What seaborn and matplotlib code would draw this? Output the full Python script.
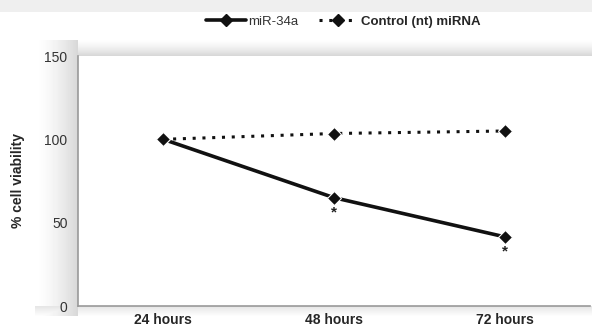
import numpy as np
import pandas as pd
import matplotlib
matplotlib.use('Agg')
import matplotlib.pyplot as plt
import seaborn as sns
from matplotlib.lines import Line2D

# data
timepoints = ['24 hours', '48 hours', '72 hours']
mir34a = [100, 65, 41.5]
control = [100, 103.5, 105]
significant = [False, True, True]

df = pd.DataFrame({
    'time': timepoints * 2,
    'viability': mir34a + control,
    'group': ['miR-34a'] * 3 + ['Control (nt) miRNA'] * 3,
})

sns.set_style('white')
plt.rcParams['font.family'] = ['Liberation Sans', 'DejaVu Sans']

W, H = 592, 332
fig = plt.figure(figsize=(W / 100, H / 100), dpi=100)
fig.patch.set_facecolor('white')

# soft shadow around the plot area plus a light strip on top
yy, xx = np.mgrid[0:H, 0:W].astype(float)
shade = np.zeros((H, W))
left_band = (xx >= 35) & (xx < 78) & (yy >= 40) & (yy < 316)
shade[left_band] = ((xx[left_band] - 35) / 43) ** 1.5 * 0.16
top_band = (xx >= 78) & (yy >= 38) & (yy < 56)
shade[top_band] = np.maximum(shade[top_band], ((yy[top_band] - 38) / 18) ** 1.5 * 0.17)
bot_band = (xx >= 35) & (yy >= 306) & (yy < 316)
shade[bot_band] = np.maximum(shade[bot_band], 0.1 * (316 - yy[bot_band]) / 10)
shade[yy < 12] = 0.065
bg = fig.add_axes([0, 0, 1, 1], zorder=0)
bg.imshow(1 - shade, cmap='gray', vmin=0, vmax=1, extent=[0, 1, 0, 1],
          aspect='auto', origin='upper', interpolation='bilinear')
bg.axis('off')

ax = fig.add_axes([78 / W, 1 - 306 / H, 1 - 80 / W, (306 - 56) / H], zorder=1)
ax.set_facecolor('white')

sns.lineplot(data=df[df['group'] == 'miR-34a'], x='time', y='viability',
             color='#111111', linewidth=2.6, marker='D', markersize=7, ax=ax)
sns.lineplot(data=df[df['group'] == 'Control (nt) miRNA'], x='time', y='viability',
             color='#111111', linewidth=2.2, linestyle=(0, (1, 2.2)),
             marker='D', markersize=7, ax=ax)

for i, (v, s) in enumerate(zip(mir34a, significant)):
    if s:
        ax.text(i, v - 9, '*', ha='center', va='center', fontsize=11,
                fontweight='bold', color='#222222')

ax.set_xlim(-0.5, 2.5)
ax.set_ylim(0, 150)
ax.set_yticks([0, 50, 100, 150])
ax.set_xticks([-0.5, 0.5, 1.5, 2.5])
ax.set_xticklabels([])
ax.set_xticks(range(3), minor=True)
ax.set_xticklabels(timepoints, minor=True, fontweight='bold', fontsize=10)
ax.tick_params(axis='x', which='minor', length=0, pad=5)
ax.tick_params(axis='x', which='major', length=4, direction='inout', color='#999999')
ax.tick_params(axis='y', length=4, color='#999999', labelsize=10, labelcolor='#333333')
ax.set_xlabel('')
ax.set_ylabel('% cell viability', fontweight='bold', fontsize=10, labelpad=14)
for side in ['top', 'right']:
    ax.spines[side].set_visible(False)
for side in ['left', 'bottom']:
    ax.spines[side].set_color('#999999')
    ax.spines[side].set_linewidth(1.2)

handles = [
    Line2D([], [], color='#111111', linewidth=2.6, marker='D', markersize=6),
    Line2D([], [], color='#111111', linewidth=2.2, linestyle=(0, (1, 2.2)),
           marker='D', markersize=6),
]
leg = fig.legend(handles, ['miR-34a', 'Control (nt) miRNA'], loc='center',
                 bbox_to_anchor=(0.58, 0.935), ncol=2, frameon=False,
                 fontsize=9.5, handlelength=3, columnspacing=1.5, handletextpad=0.2)
leg.get_texts()[1].set_fontweight('bold')
leg.get_texts()[0].set_color('#333333')

fig.savefig('out.png', dpi=100, facecolor=fig.get_facecolor())
